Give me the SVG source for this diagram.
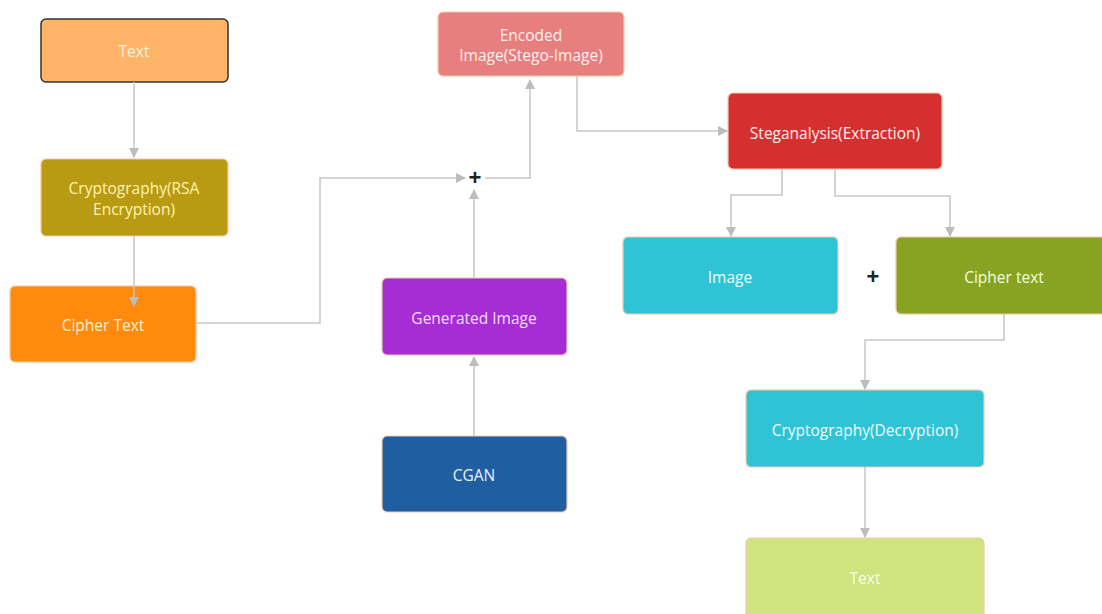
<svg xmlns="http://www.w3.org/2000/svg" width="1102" height="614" viewBox="0 0 1102 614">
<style>
.n{stroke:#f3c9a8;stroke-width:1.2}
.t{font-family:"Open Sans","Liberation Sans",sans-serif;font-size:15.5px;text-anchor:middle;dominant-baseline:central}
.c{fill:none;stroke:#c6c6c6;stroke-width:1.5}
.p{font-family:"Liberation Sans",sans-serif;font-size:22px;font-weight:bold;fill:#222;text-anchor:middle;dominant-baseline:central}
</style>
<defs>
<marker id="a" viewBox="0 0 10 10" refX="9" refY="5" markerWidth="10" markerHeight="10" markerUnits="userSpaceOnUse" orient="auto">
<path d="M0,0 L10,5 L0,10 z" fill="#bdbdbd"/>
</marker>
</defs>
<rect width="1102" height="614" fill="#fff"/>
<g id="n-text1"><rect x="41" y="19" width="187" height="63" rx="5" fill="#ffb468" stroke="#333" stroke-width="1.5"/><text class="t" x="134" y="51" fill="#fff3e0">Text</text></g>
<g id="n-rsa"><rect class="n" x="41" y="159" width="187" height="77" rx="5" fill="#b89b12"/><text class="t" fill="#fff4b0"><tspan x="134" y="188">Cryptography(RSA</tspan><tspan x="134" y="209">Encryption)</tspan></text></g>
<g id="n-cipher1"><rect class="n" x="10" y="286" width="186" height="76" rx="5" fill="#ff8a0b"/><text class="t" x="103" y="325" fill="#fff0d8">Cipher Text</text></g>
<g id="plus1"><text class="p" x="475" y="177">+</text></g>
<g id="n-gen"><rect class="n" x="382" y="278" width="185" height="77" rx="5" fill="#a62dd5"/><text class="t" x="474" y="318" fill="#f5dcff">Generated Image</text></g>
<g id="n-cgan"><rect class="n" x="382" y="436" width="185" height="76" rx="5" fill="#1f5ea1"/><text class="t" x="474" y="475" fill="#e8f4ff">CGAN</text></g>
<g id="n-enc"><rect class="n" x="438" y="12" width="186" height="64" rx="5" fill="#e77f7f"/><text class="t" fill="#fff0ee"><tspan x="531" y="35">Encoded</tspan><tspan x="531" y="55">Image(Stego-Image)</tspan></text></g>
<g id="n-steg"><rect class="n" x="728" y="93" width="214" height="76" rx="5" fill="#d62f30"/><text class="t" x="835" y="133" fill="#fff0f0">Steganalysis(Extraction)</text></g>
<g id="n-image"><rect class="n" x="623" y="237" width="215" height="77" rx="5" fill="#2fc3d6"/><text class="t" x="730" y="277" fill="#f0fcff">Image</text></g>
<g id="plus2"><text class="p" x="873" y="276">+</text></g>
<g id="n-cipher2"><rect class="n" x="896" y="237" width="210" height="77" rx="5" fill="#86a321"/><text class="t" x="1004" y="277" fill="#f4ffe0">Cipher text</text></g>
<g id="n-dec"><rect class="n" x="746" y="390" width="238" height="77" rx="5" fill="#2fc3d6"/><text class="t" x="865" y="430" fill="#f0fcff">Cryptography(Decryption)</text></g>
<g id="n-text2"><rect class="n" x="746" y="538" width="238" height="80" rx="5" fill="#cfe37f"/><text class="t" x="865" y="578" fill="#fbffe8">Text</text></g>
<g id="connectors">
<path class="c" d="M134,82 V157" marker-end="url(#a)"/>
<path class="c" d="M134,236 V306" marker-end="url(#a)"/>
<path class="c" d="M196,323 H320 V178 H465" marker-end="url(#a)"/>
<path class="c" d="M474,278 V190" marker-end="url(#a)"/>
<path class="c" d="M474,436 V357" marker-end="url(#a)"/>
<path class="c" d="M485,178 H530 V80" marker-end="url(#a)"/>
<path class="c" d="M577,76 V131 H727" marker-end="url(#a)"/>
<path class="c" d="M782,169 V195 H731 V236" marker-end="url(#a)"/>
<path class="c" d="M835,169 V196 H950 V236" marker-end="url(#a)"/>
<path class="c" d="M1004,314 V340 H865 V389" marker-end="url(#a)"/>
<path class="c" d="M865,467 V537" marker-end="url(#a)"/>
</g>
</svg>
